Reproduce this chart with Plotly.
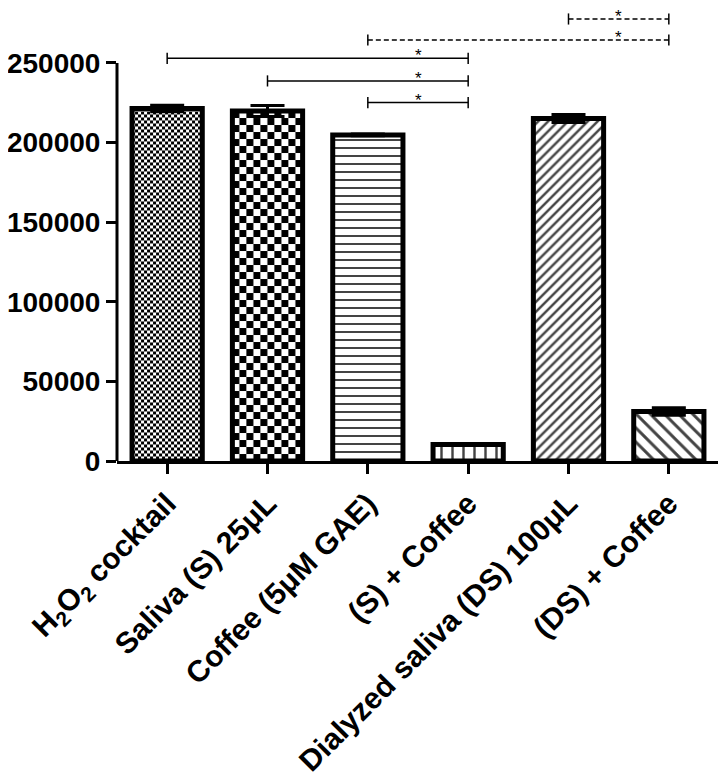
import base64
import plotly.graph_objects as go

categories = [
    "H<sub>2</sub>O<sub>2</sub> cocktail",
    "Saliva (S) 25μL",
    "Coffee (5μM GAE)",
    "(S) + Coffee",
    "Dialyzed saliva (DS) 100μL",
    "(DS) + Coffee",
]
values = [221400, 219800, 204800, 10400, 215100, 31100]
errors = [2000, 3500, 500, 300, 2500, 2400]
y_ticks = [0, 50000, 100000, 150000, 200000, 250000]

# significance brackets: (from index, to index, height, dashed)
brackets_from = [0, 1, 2, 2, 4]
brackets_to = [3, 3, 3, 5, 5]
brackets_y = [252900, 238700, 225100, 264400, 277600]
brackets_dashed = [False, False, False, True, True]
star_offset = 0.5

# styling
pattern_shapes = ["", "", "-", "|", "/", "\\"]
pattern_sizes = [8, 8, 8, 11, 7, 10]
pattern_solid = [0.3, 0.3, 0.25, 0.22, 0.35, 0.3]
checker_sizes = {0: 3, 1: 7}

# page body has an 8px margin, so the figure is sized to fit the window
Y_MAX = 284500
W, H = 718, 772
M_L, M_R, M_T, M_B = 109, 7, 0, 319
plot_w = W - M_L - M_R
plot_h = H - M_T - M_B
BAR_W = 0.7

x = list(range(len(categories)))
fills = ["rgba(0,0,0,0)" if i in checker_sizes else "white" for i in x]

fig = go.Figure()
fig.add_trace(go.Bar(
    x=x, y=values, width=BAR_W,
    marker=dict(
        color=fills,
        line=dict(color="black", width=5),
        pattern=dict(shape=pattern_shapes, size=pattern_sizes,
                     solidity=pattern_solid, fgcolor="black",
                     bgcolor=fills, fgopacity=1),
    ),
    error_y=dict(type="data", array=errors, color="black",
                 thickness=3, width=17),
    showlegend=False,
    cliponaxis=False,
))


def checker_uri(w, h, s):
    svg = (
        f'<svg xmlns="http://www.w3.org/2000/svg" width="{w:.2f}" height="{h:.2f}" '
        f'viewBox="0 0 {w:.2f} {h:.2f}" preserveAspectRatio="none">'
        f'<defs><pattern id="p" width="{2*s}" height="{2*s}" patternUnits="userSpaceOnUse">'
        f'<rect width="{2*s}" height="{2*s}" fill="white"/>'
        f'<rect width="{s}" height="{s}" fill="black"/>'
        f'<rect x="{s}" y="{s}" width="{s}" height="{s}" fill="black"/>'
        f'</pattern></defs><rect width="{w:.2f}" height="{h:.2f}" fill="url(#p)"/></svg>'
    )
    return "data:image/svg+xml;base64," + base64.b64encode(svg.encode()).decode()


px_per_unit_x = plot_w / len(categories)
for i, s in checker_sizes.items():
    wpx = BAR_W * px_per_unit_x
    hpx = values[i] / Y_MAX * plot_h
    fig.add_layout_image(dict(
        source=checker_uri(wpx, hpx, s),
        xref="x", yref="y", x=x[i] - BAR_W / 2, y=values[i],
        sizex=BAR_W, sizey=values[i], xanchor="left", yanchor="top",
        sizing="stretch", layer="below",
    ))

# y axis line from 0 to top tick
fig.add_shape(type="line", xref="paper", yref="y", x0=0, x1=0,
              y0=0, y1=y_ticks[-1], line=dict(color="black", width=3))

tick_half = 3500
for a, b, yy, dashed in zip(brackets_from, brackets_to, brackets_y, brackets_dashed):
    dash = "5px,3px" if dashed else "solid"
    fig.add_shape(type="line", x0=a, x1=b, y0=yy, y1=yy,
                  line=dict(color="black", width=1.5, dash=dash))
    for xe in (a, b):
        fig.add_shape(type="line", x0=xe, x1=xe, y0=yy - tick_half, y1=yy + tick_half,
                      line=dict(color="black", width=1.5))
    fig.add_annotation(x=b - star_offset, y=yy, text="*", showarrow=False,
                       yanchor="bottom", yshift=-8, borderpad=0,
                       font=dict(family="Liberation Sans", size=17, color="black"))

fig.update_layout(
    width=W, height=H,
    margin=dict(l=M_L, r=M_R, t=M_T, b=M_B, autoexpand=False),
    plot_bgcolor="white", paper_bgcolor="white",
    bargap=0.3,
)
fig.update_xaxes(
    range=[-0.5, len(categories) - 0.5], automargin=False,
    tickvals=x, ticktext=categories, tickangle=-45,
    showline=True, linecolor="black", linewidth=3,
    ticks="outside", ticklen=10, tickwidth=3, tickcolor="black",
    showgrid=False, zeroline=False,
    tickfont=dict(family="Liberation Sans", size=30, color="black", weight="bold"),
)
fig.update_yaxes(
    range=[0, Y_MAX], automargin=False, tickvals=y_ticks,
    ticktext=[str(v) for v in y_ticks],
    showline=False, ticks="outside", ticklen=10, tickwidth=3, tickcolor="black",
    showgrid=False, zeroline=False,
    tickfont=dict(family="Liberation Sans", size=28, color="black", weight="bold"),
)

fig.write_html("out.html")
